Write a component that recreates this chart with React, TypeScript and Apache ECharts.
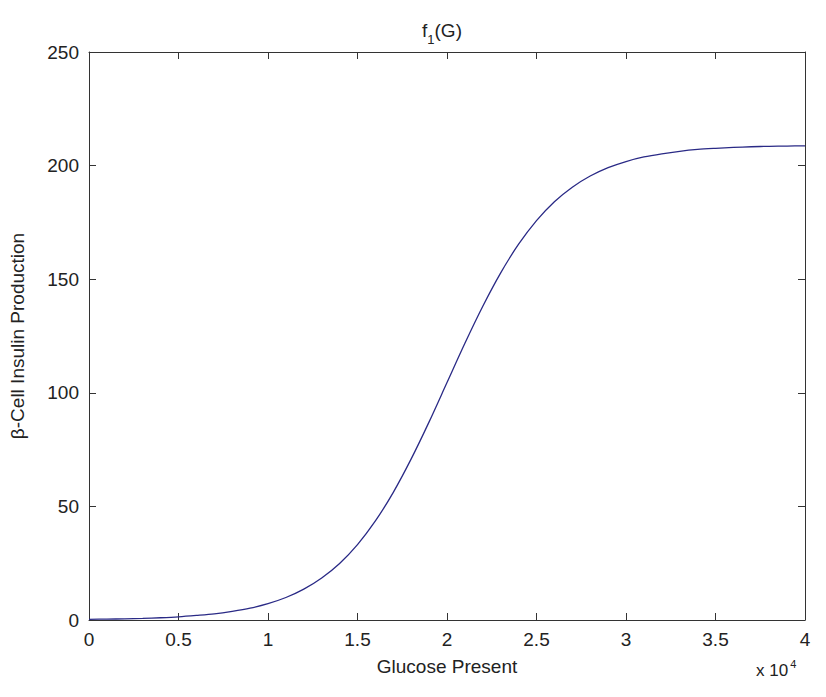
import React, { useEffect, useRef } from "react";
import * as echarts from "echarts";

const glucose = [
  0, 1000, 2000, 3000, 4000, 5000, 6000, 7000, 8000, 9000,
  10000, 11000, 12000, 13000, 14000, 15000, 16000, 17000, 18000, 19000,
  20000, 21000, 22000, 23000, 24000, 25000, 26000, 27000, 28000, 29000,
  30000, 31000, 32000, 33000, 34000, 35000, 36000, 37000, 38000, 39000, 40000,
];
const insulin = [
  0.3, 0.4, 0.5, 0.7, 1.0, 1.4, 2.0, 2.7, 3.8, 5.2,
  7.2, 9.9, 13.6, 18.5, 24.9, 33.2, 43.6, 56.2, 70.9, 87.2,
  104.5, 121.8, 138.1, 152.8, 165.4, 175.8, 184.1, 190.5, 195.4, 199.1,
  201.8, 203.8, 205.2, 206.3, 207.1, 207.6, 208.0, 208.3, 208.5, 208.6, 208.7,
];
const xTicks = [0, 0.5, 1, 1.5, 2, 2.5, 3, 3.5, 4];
const yTicks = [0, 50, 100, 150, 200, 250];

const FONT = "Liberation Sans";
const FS = 19;
const AX = "#333333";

export default function App() {
  const ref = useRef<HTMLDivElement>(null);
  useEffect(() => {
    if (!ref.current) return;
    const chart = echarts.init(ref.current, undefined, { renderer: "svg" });
    const xMax = xTicks[xTicks.length - 1] * 10000;
    const xInt = (xTicks[1] - xTicks[0]) * 10000;
    const yMax = yTicks[yTicks.length - 1];
    const yInt = yTicks[1] - yTicks[0];
    const common = {
      axisLine: { show: true, onZero: false, lineStyle: { color: AX, width: 1 } },
      axisTick: { show: true, inside: true, length: 7, lineStyle: { color: AX } },
      splitLine: { show: false },
    };
    chart.setOption({
      animation: false,
      backgroundColor: "#ffffff",
      textStyle: { fontFamily: FONT },
      title: {
        text: "{a|f}{s|1}{a|(G)}",
        left: 437,
        top: 16,
        textAlign: "center",
        textStyle: {
          fontWeight: "normal",
          rich: {
            a: { fontFamily: FONT, fontSize: FS, fontWeight: "normal", color: "#222", verticalAlign: "bottom" },
            s: { fontFamily: FONT, fontSize: 13, fontWeight: "normal", color: "#222", verticalAlign: "bottom", padding: [0, 0, -6, 0] },
          },
        },
      },
      grid: { left: 84, right: 21, top: 52, bottom: 77, containLabel: false },
      xAxis: [
        {
          type: "value",
          min: 0,
          max: xMax,
          interval: xInt,
          position: "bottom",
          name: "Glucose Present",
          nameLocation: "middle",
          nameGap: 37,
          nameTextStyle: { fontFamily: FONT, fontSize: FS, color: "#222" },
          axisLabel: {
            margin: 10,
            fontFamily: FONT,
            fontSize: FS,
            color: "#222",
            formatter: (v: number) => String(v / 10000),
          },
          ...common,
        },
        {
          type: "value",
          min: 0,
          max: xMax,
          interval: xInt,
          position: "top",
          axisLabel: { show: false },
          ...common,
        },
      ],
      yAxis: [
        {
          type: "value",
          min: 0,
          max: yMax,
          interval: yInt,
          position: "left",
          name: "β-Cell Insulin Production",
          nameLocation: "middle",
          nameGap: 62,
          nameTextStyle: { fontFamily: FONT, fontSize: FS, color: "#222" },
          axisLabel: { margin: 10, fontFamily: FONT, fontSize: FS, color: "#222" },
          ...common,
        },
        {
          type: "value",
          min: 0,
          max: yMax,
          interval: yInt,
          position: "right",
          axisLabel: { show: false },
          ...common,
        },
      ],
      graphic: [
        {
          type: "text",
          left: 756,
          top: 658,
          style: {
            text: "{a|x 10}{s|4}",
            rich: {
              a: { fontFamily: FONT, fontSize: 17, fill: "#222", verticalAlign: "bottom" },
              s: { fontFamily: FONT, fontSize: 11, fill: "#222", verticalAlign: "bottom", padding: [0, 0, 10, 2] },
            },
          },
        },
      ],
      series: [
        {
          type: "line",
          xAxisIndex: 0,
          yAxisIndex: 0,
          data: glucose.map((g, i) => [g, insulin[i]]),
          showSymbol: false,
          smooth: 0.3,
          lineStyle: { color: "#2a2a86", width: 1.3 },
        },
      ],
    });
    return () => chart.dispose();
  }, []);
  return (
    <div
      ref={ref}
      style={{ position: "fixed", left: 0, top: 0, width: 826, height: 697, background: "#fff" }}
    />
  );
}
